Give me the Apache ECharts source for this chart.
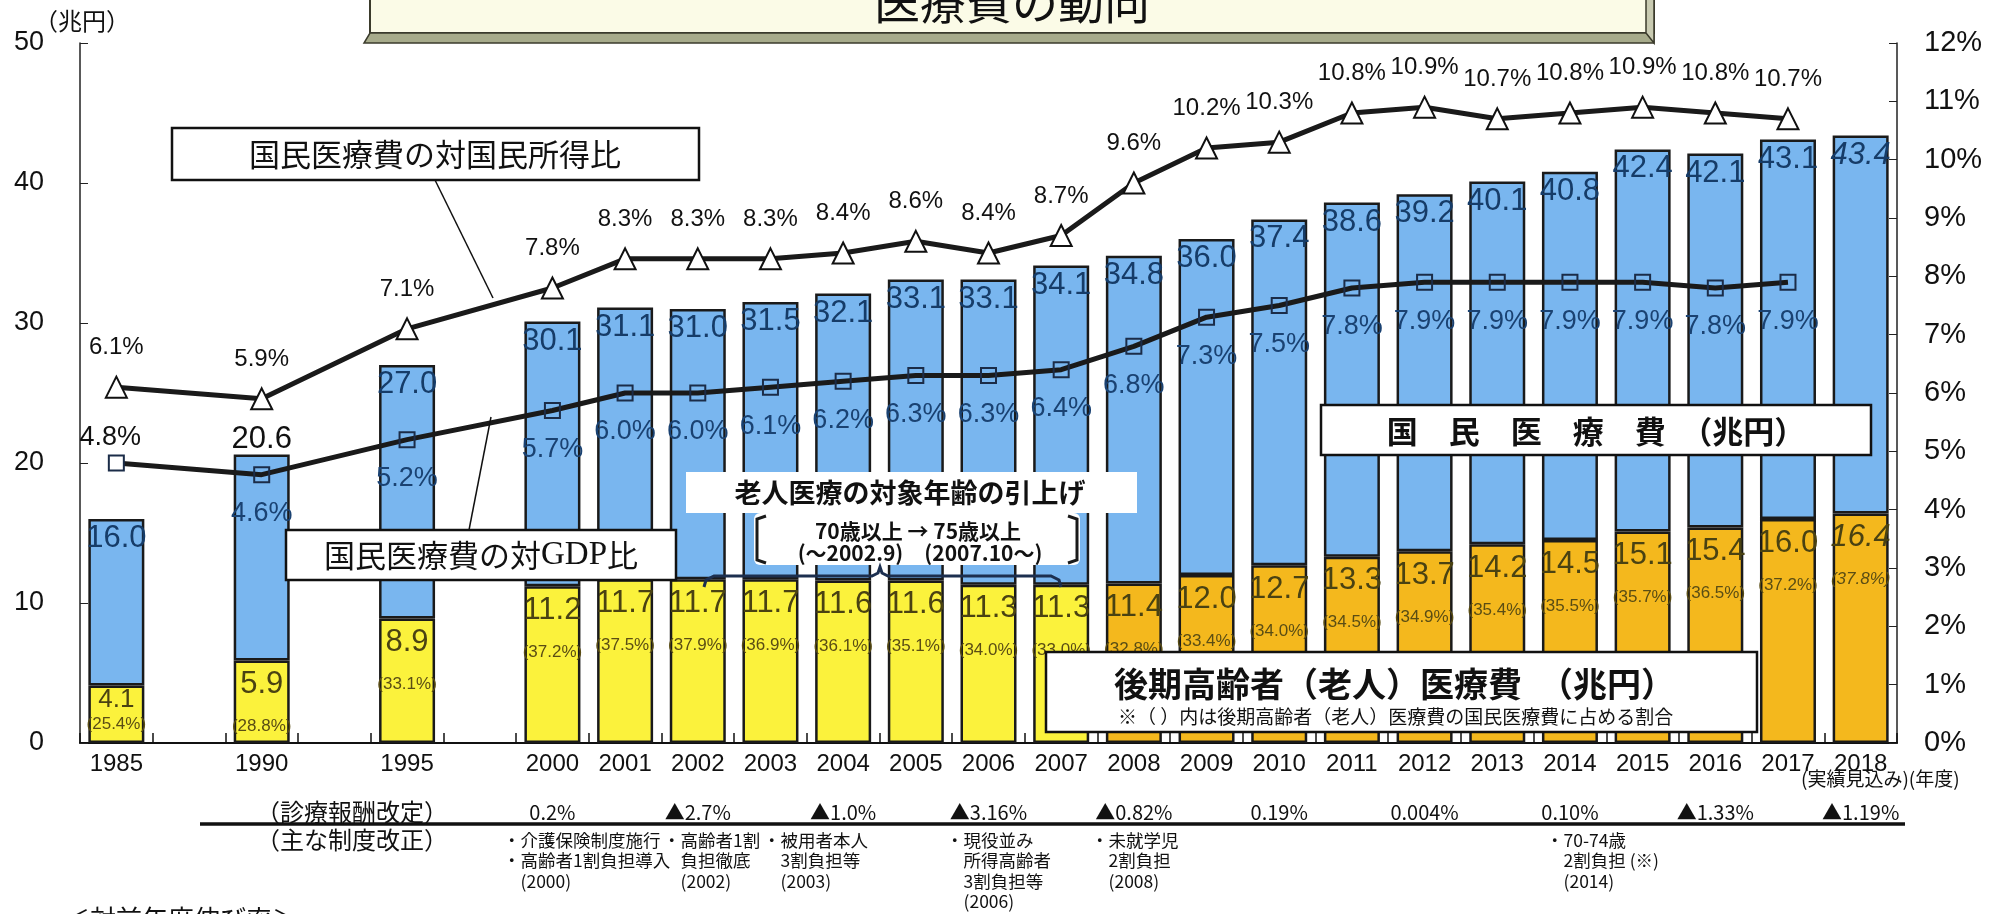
<!DOCTYPE html>
<html><head><meta charset="utf-8">
<script src="https://cdn.jsdelivr.net/npm/echarts@6/dist/echarts.min.js"></script>
<style>html,body{margin:0;padding:0;background:#fff}#c{width:1989px;height:914px}</style>
</head><body><div id="c"></div>
<script>
// ---------------- data ----------------
const years = ['1985','1990','1995','2000','2001','2002','2003','2004','2005','2006','2007','2008','2009','2010','2011','2012','2013','2014','2015','2016','2017','2018'];
const totalCost = [16.0,20.6,27.0,30.1,31.1,31.0,31.5,32.1,33.1,33.1,34.1,34.8,36.0,37.4,38.6,39.2,40.1,40.8,42.4,42.1,43.1,43.4];
const elderlyCost = [4.1,5.9,8.9,11.2,11.7,11.7,11.7,11.6,11.6,11.3,11.3,11.4,12.0,12.7,13.3,13.7,14.2,14.5,15.1,15.4,16.0,16.4];
const elderlyShare = [25.4,28.8,33.1,37.2,37.5,37.9,36.9,36.1,35.1,34.0,33.0,32.8,33.4,34.0,34.5,34.9,35.4,35.5,35.7,36.5,37.2,37.8];
const incomeRatio = [6.1,5.9,7.1,7.8,8.3,8.3,8.3,8.4,8.6,8.4,8.7,9.6,10.2,10.3,10.8,10.9,10.7,10.8,10.9,10.8,10.7,null];
const gdpRatio = [4.8,4.6,5.2,5.7,6.0,6.0,6.1,6.2,6.3,6.3,6.4,6.8,7.3,7.5,7.8,7.9,7.9,7.9,7.9,7.8,7.9,null];
const revisionRates = [['2000','0.2%'],['2002','▲2.7%'],['2004','▲1.0%'],['2006','▲3.16%'],['2008','▲0.82%'],['2010','0.19%'],['2012','0.004%'],['2014','0.10%'],['2016','▲1.33%'],['2018','▲1.19%']];
const reformNotes = [
  {x: 503, lines: ['・介護保険制度施行', '・高齢者1割負担導入', '　(2000)']},
  {x: 663, lines: ['・高齢者1割', '　負担徹底', '　(2002)']},
  {x: 763, lines: ['・被用者本人', '　3割負担等', '　(2003)']},
  {x: 946, lines: ['・現役並み', '　所得高齢者', '　3割負担等', '　(2006)']},
  {x: 1091, lines: ['・未就学児', '　2割負担', '　(2008)']},
  {x: 1546, lines: ['・70-74歳', '　2割負担 (※)', '　(2014)']}
];
const estimateYears = ['2018'];
const totalLabelAbove = ['1990'];
const gdpLabelAbove = ['1985'];

// ---------------- style ----------------
const BLUE = '#79b6ef', YELLOW = '#fbf23c', ORANGE = '#f4b81d';
const NARROW = "'Liberation Sans Narrow','Arial Narrow','Liberation Sans',Arial,sans-serif";
const SANS = "'Liberation Sans',Arial,sans-serif";
const JP = "'Noto Sans CJK JP','Noto Sans',sans-serif";

// category slots (wider gaps before 2000)
const cats = [], slotOf = [];
years.forEach(y => { slotOf.push(cats.length); cats.push(y); if (+y < 2000) cats.push('_' + y); });
function spread(arr, fn) {
  const out = cats.map(() => null);
  arr.forEach((v, i) => { out[slotOf[i]] = fn ? fn(v, i) : v; });
  return out;
}

const elderlyData = spread(elderlyCost, (v, i) => {
  const est = estimateYears.includes(years[i]);
  const small = v < 5;
  return {
    value: v, raw: v, share: elderlyShare[i], est: est,
    itemStyle: {color: +years[i] >= 2008 ? ORANGE : YELLOW},
    label: small ? {distance: 1, rich: {v: {fontSize: 26, lineHeight: 26}, p: {lineHeight: 24}}} : undefined
  };
});
const restData = spread(totalCost, (t, i) => {
  const item = {value: +(t - elderlyCost[i]).toFixed(1), total: t, est: estimateYears.includes(years[i])};
  if (totalLabelAbove.includes(years[i])) item.label = {position: 'top', distance: 0, color: '#111'};
  if (item.est) item.label = {fontStyle: 'italic'};
  return item;
});
const incomeData = spread(incomeRatio);
const gdpData = spread(gdpRatio, (v, i) => gdpLabelAbove.includes(years[i])
  ? {value: v, label: {position: 'top', distance: 3, color: '#111', offset: [-6, 0]}, itemStyle: {color: '#fff'}}
  : v);

const chart = echarts.init(document.getElementById('c'), null, {renderer: 'canvas'});
chart.setOption({
  animation: false,
  backgroundColor: '#fff',
  grid: {left: 80, right: 92, top: 43, bottom: 171, containLabel: false},
  xAxis: {
    type: 'category', data: cats, boundaryGap: true,
    axisLine: {lineStyle: {color: '#111', width: 2}},
    axisTick: {show: true, inside: true, length: 10, interval: 0, lineStyle: {color: '#111', width: 1.5}},
    axisLabel: {interval: 0, fontSize: 24, margin: 9, color: '#111', fontFamily: SANS,
      formatter: v => v.charAt(0) === '_' ? '' : v}
  },
  yAxis: [
    {type: 'value', min: 0, max: 50, interval: 10, position: 'left',
      axisLine: {show: true, lineStyle: {color: '#222', width: 1.5}},
      axisTick: {show: true, inside: true, length: 8, lineStyle: {color: '#222'}},
      axisLabel: {fontSize: 27, margin: 36, color: '#111', fontFamily: SANS},
      splitLine: {show: false}},
    {type: 'value', min: 0, max: 12, interval: 1, position: 'right',
      axisLine: {show: true, lineStyle: {color: '#222', width: 1.5}},
      axisTick: {show: true, inside: true, length: 8, lineStyle: {color: '#222'}},
      axisLabel: {fontSize: 29, margin: 27, color: '#111', fontFamily: NARROW, formatter: '{value}%'},
      splitLine: {show: false}}
  ],
  series: [
    {name: '後期高齢者医療費', type: 'bar', stack: 'cost', barWidth: 56, data: elderlyData,
      itemStyle: {borderColor: '#1a1a1a', borderWidth: 2.5},
      label: {show: true, position: 'insideTop', distance: 4, fontFamily: NARROW, color: '#4a4212',
        formatter: p => p.data.est ? `{vi|${p.data.raw.toFixed(1)}}\n{pi|(${p.data.share.toFixed(1)}%)}`
                                   : `{v|${p.data.raw.toFixed(1)}}\n{p|(${p.data.share.toFixed(1)}%)}`,
        rich: {
          v: {fontSize: 31, lineHeight: 40, fontFamily: NARROW, color: '#4a4212'},
          p: {fontSize: 17, lineHeight: 44, fontFamily: NARROW, color: '#5a4d14'},
          vi: {fontSize: 31, lineHeight: 40, fontFamily: NARROW, color: '#4a4212', fontStyle: 'italic'},
          pi: {fontSize: 17, lineHeight: 44, fontFamily: NARROW, color: '#5a4d14', fontStyle: 'italic'}
        }}},
    {name: '国民医療費', type: 'bar', stack: 'cost', barWidth: 56, data: restData,
      itemStyle: {color: BLUE, borderColor: '#1a1a1a', borderWidth: 2.5},
      label: {show: true, position: 'insideTop', distance: 4, fontSize: 31, fontFamily: NARROW, color: '#163c68',
        formatter: p => p.data.total.toFixed(1)}},
    {name: '国民医療費の対国民所得比', type: 'line', yAxisIndex: 1, data: incomeData, connectNulls: true,
      symbol: 'triangle', symbolSize: 21, z: 5,
      lineStyle: {color: '#1a1a1a', width: 5},
      itemStyle: {color: '#fff', borderColor: '#111', borderWidth: 2},
      label: {show: true, position: 'top', distance: 16, fontSize: 24, fontFamily: NARROW, color: '#111',
        formatter: p => p.value == null ? '' : p.value.toFixed(1) + '%'}},
    {name: '国民医療費の対GDP比', type: 'line', yAxisIndex: 1, data: gdpData, connectNulls: true,
      symbol: 'rect', symbolSize: 15, z: 5,
      lineStyle: {color: '#1a1a1a', width: 5},
      itemStyle: {color: 'rgba(0,0,0,0)', borderColor: '#1b2c48', borderWidth: 2},
      label: {show: true, position: 'bottom', distance: 17, fontSize: 27, fontFamily: NARROW, color: '#1a4272',
        formatter: p => p.value == null ? '' : (+p.value).toFixed(1) + '%'}}
  ]
});

// ---------------- annotations ----------------
const Z = 100;
const g = [];
function txt(x, y, text, o) {
  g.push({type: 'text', x: x, y: y, z: Z, style: Object.assign({text: text, fill: '#111',
    fontFamily: JP, fontSize: 20, align: 'left', verticalAlign: 'middle'}, o || {})});
}
function rect(x, y, w, h, o) {
  g.push({type: 'rect', z: Z, shape: {x: x, y: y, width: w, height: h, r: (o && o.r) || 0},
    style: Object.assign({fill: '#fff', stroke: '#111', lineWidth: 2}, o || {})});
}
function line(x1, y1, x2, y2, o) {
  g.push({type: 'line', z: Z, shape: {x1: x1, y1: y1, x2: x2, y2: y2},
    style: Object.assign({stroke: '#111', lineWidth: 1.5}, o || {})});
}
function poly(points, o) {
  g.push({type: 'polyline', z: Z, shape: {points: points},
    style: Object.assign({stroke: '#1a1a1a', lineWidth: 3, fill: null}, o || {})});
}
// title box (cut off at top)
rect(370, -12, 1284, 45, {fill: '#fbfbe7', stroke: '#3b3b2c', lineWidth: 2});
g.push({type: 'polygon', z: Z, shape: {points: [[370, 33], [1654, 33], [1654, 43], [364, 43]]},
  style: {fill: '#a7ab8b', stroke: '#3b3b2c', lineWidth: 1.5}});
g.push({type: 'polygon', z: Z, shape: {points: [[1646, -12], [1654, -12], [1654, 43], [1646, 33]]},
  style: {fill: '#c9cbb2', stroke: '#3b3b2c', lineWidth: 1.5}});
txt(1012, 2, '医療費の動向', {fontSize: 46, align: 'center'});
// unit
txt(34, 21, '（兆円）', {fontSize: 24});
// callout: national income ratio
rect(172, 128, 527, 52, {lineWidth: 2.5});
line(435, 180, 493, 298);
txt(435, 154, '国民医療費の対国民所得比', {fontSize: 31, align: 'center'});
// callout: GDP ratio
rect(286, 530, 390, 50, {lineWidth: 2.5});
line(469, 530, 491, 417);
g.push({type: 'text', x: 481, y: 555, z: Z, style: {
  text: '{a|国民医療費の対}{b|GDP}{a|比}', align: 'center', verticalAlign: 'middle',
  rich: {a: {fontFamily: JP, fontSize: 31, fill: '#111'}, b: {fontFamily: "'Liberation Serif',serif", fontSize: 33, fill: '#111'}}}});
// legend box: national medical cost
rect(1321, 405, 550, 50, {lineWidth: 2.5});
txt(1596, 431, '国　民　医　療　費　（兆円）', {fontSize: 31, fontWeight: 'bold', align: 'center'});
// legend box: elderly medical cost
rect(1046, 652, 711, 80, {lineWidth: 2.5});
txt(1114, 684, '後期高齢者（老人）医療費　（兆円）', {fontSize: 34, fontWeight: 'bold'});
txt(1118, 717, '※（ ）内は後期高齢者（老人）医療費の国民医療費に占める割合', {fontSize: 19});
// age raise annotation
rect(686, 472, 451, 41, {stroke: null, lineWidth: 0});
txt(910, 493, '老人医療の対象年齢の引上げ', {fontSize: 27, fontWeight: 'bold', align: 'center'});
rect(754, 513, 326, 52, {stroke: null, lineWidth: 0, r: 6});
poly([[766, 516], [757, 519], [757, 560], [766, 563]]);
poly([[1068, 516], [1077, 519], [1077, 560], [1068, 563]]);
txt(918, 531, '70歳以上 → 75歳以上', {fontSize: 21, fontWeight: 'bold', align: 'center'});
txt(920, 553, '(～2002.9)　(2007.10～)', {fontSize: 21, fontWeight: 'bold', align: 'center'});
poly([[704, 587], [706, 580], [714, 576], [872, 576], [878, 573], [880, 567], [882, 573], [888, 576], [1051, 576], [1059, 580], [1061, 587]], {stroke: '#1c2f4f'});
// below axis
txt(1801, 779, '(実績見込み)(年度)', {fontSize: 19});
txt(256, 812, '（診療報酬改定）', {fontSize: 24});
line(200, 824, 1905, 824, {lineWidth: 3.5});
txt(256, 840, '（主な制度改正）', {fontSize: 24});
revisionRates.forEach(([y, t]) => {
  const x = chart.convertToPixel({xAxisIndex: 0}, y);
  txt(x, 812, t, {fontSize: 20, align: 'center'});
});
reformNotes.forEach(n => n.lines.forEach((l, k) => txt(n.x, 840 + k * 20.5, l, {fontSize: 17.5})));
txt(64, 906, '＜対前年度伸び率＞', {fontSize: 26, verticalAlign: 'top'});

chart.setOption({graphic: {elements: g}});
</script></body></html>
